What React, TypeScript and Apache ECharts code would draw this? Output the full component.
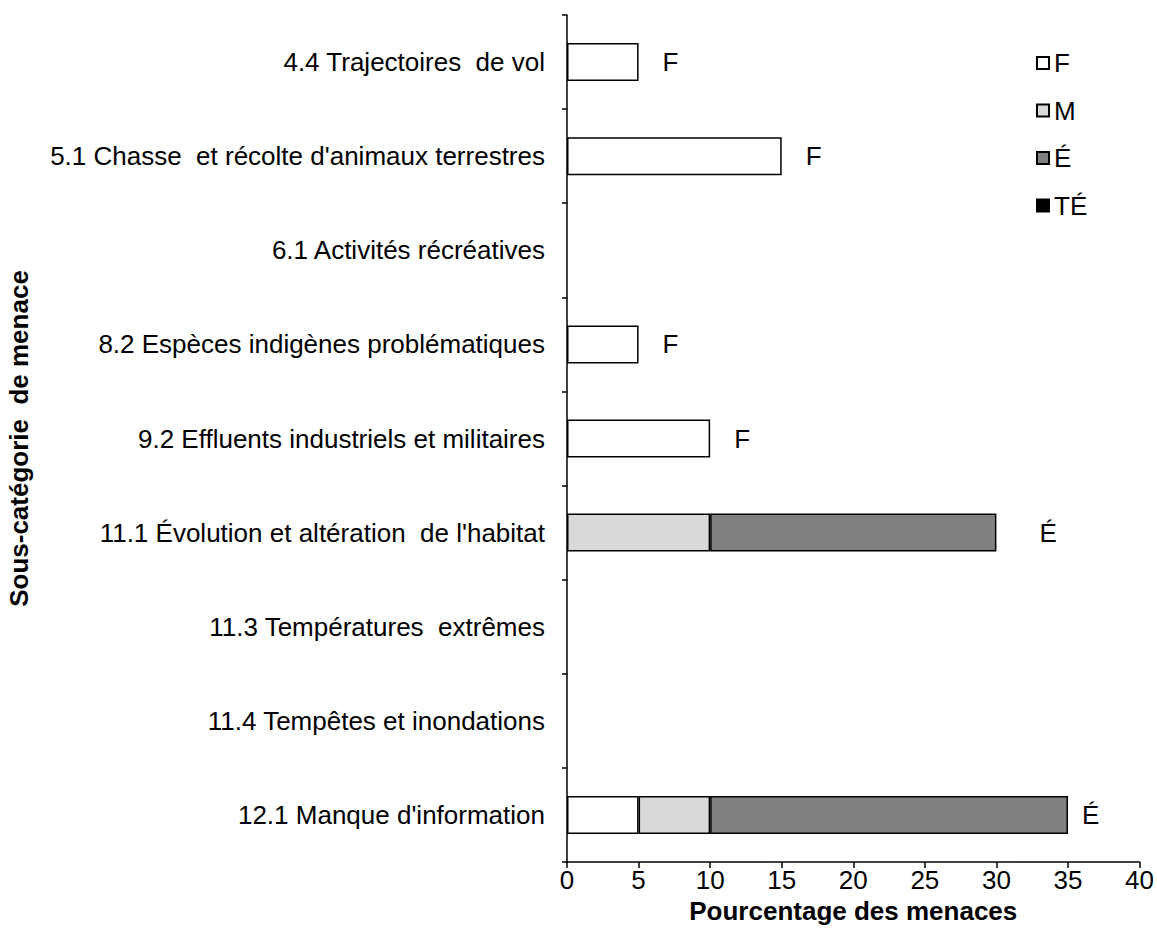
import React, { useEffect, useRef } from "react";
import * as echarts from "echarts";

const categories = [
  "4.4 Trajectoires  de vol",
  "5.1 Chasse  et récolte d'animaux terrestres",
  "6.1 Activités récréatives",
  "8.2 Espèces indigènes problématiques",
  "9.2 Effluents industriels et militaires",
  "11.1 Évolution et altération  de l'habitat",
  "11.3 Températures  extrêmes",
  "11.4 Tempêtes et inondations",
  "12.1 Manque d'information",
];
const seriesNames = ["F", "M", "É", "TÉ"];
const valuesF = [5, 15, null, 5, 10, null, null, null, 5];
const valuesM = [null, null, null, null, null, 10, null, null, 5];
const valuesE = [null, null, null, null, null, 20, null, null, 25];
const valuesTE = [null, null, null, null, null, null, null, null, null];
const ratings = ["F", "F", "", "F", "F", "É", "", "", "É"];
const xTicks = [0, 40, 5];

const FONT = "Liberation Sans, Arial, sans-serif";
const FS = 26;

export default function App() {
  const ref = useRef<HTMLDivElement>(null);
  useEffect(() => {
    if (!ref.current) return;
    const chart = echarts.init(ref.current, null, { renderer: "svg" });
    const colors = ["#ffffff", "#d9d9d9", "#808080", "#000000"];
    const all = [valuesF, valuesM, valuesE, valuesTE];
    const totals = categories.map((_, i) =>
      all.reduce((s, arr) => s + ((arr[i] as number) || 0), 0)
    );
    const distOverride: Record<number, number> = { 5: 43, 8: 14 };
    const barSeries = all.map((arr, k) => ({
      name: seriesNames[k],
      type: "bar",
      stack: "total",
      barWidth: 38,
      data: arr,
      itemStyle: { color: colors[k], borderColor: "#000", borderWidth: 1.5 },
    }));
    const labelSeries = {
      type: "scatter",
      symbolSize: 0,
      silent: true,
      legendHoverLink: false,
      itemStyle: { opacity: 1, color: "#000" },
      label: { show: true, color: "#000", opacity: 1 },
      data: categories
        .map((_, i) => ({
          value: [totals[i], i],
          text: ratings[i],
          label: {
            show: ratings[i] !== "",
            position: "right",
            distance: distOverride[i] ?? 24,
            formatter: ratings[i],
            color: "#000",
            opacity: 1,
            fontSize: FS,
            fontFamily: FONT,
          },
        }))
        .filter((d) => d.text !== ""),
    };
    chart.setOption({
      animation: false,
      backgroundColor: "#fff",
      textStyle: { fontFamily: FONT },
      grid: { left: 567, right: 17, top: 15, bottom: 88, containLabel: false },
      legend: {
        orient: "vertical",
        left: 1031,
        top: 45,
        itemWidth: 12,
        itemHeight: 12,
        itemGap: 21.5,
        icon: "rect",
        data: seriesNames,
        textStyle: { fontSize: FS, fontFamily: FONT, color: "#000", padding: [0, 0, 0, 0] },
      },
      xAxis: {
        type: "value",
        min: xTicks[0],
        max: xTicks[1],
        interval: xTicks[2],
        name: "Pourcentage des menaces",
        nameLocation: "middle",
        nameGap: 24,
        nameTextStyle: { fontSize: FS, fontWeight: "bold", color: "#000", fontFamily: FONT },
        axisLine: { show: true, lineStyle: { color: "#000", width: 1.5 } },
        axisTick: { show: true, length: 6, lineStyle: { color: "#000", width: 1.5 } },
        axisLabel: { fontSize: FS, color: "#000", margin: 5, fontFamily: FONT },
        splitLine: { show: false },
      },
      yAxis: {
        type: "category",
        inverse: true,
        data: categories,
        name: "Sous-catégorie  de menace",
        nameLocation: "middle",
        nameGap: 535,
        nameRotate: 90,
        nameTextStyle: { fontSize: FS, fontWeight: "bold", color: "#000", fontFamily: FONT },
        axisLine: { show: true, lineStyle: { color: "#000", width: 1.5 } },
        axisTick: { show: true, length: 5, alignWithLabel: false, lineStyle: { color: "#000", width: 1.5 } },
        axisLabel: { fontSize: FS, color: "#000", margin: 22, fontFamily: FONT },
      },
      series: [...barSeries, labelSeries],
    });
    return () => chart.dispose();
  }, []);
  return <div ref={ref} style={{ width: 1157, height: 950, position: "absolute", left: 0, top: 0 }} />;
}
